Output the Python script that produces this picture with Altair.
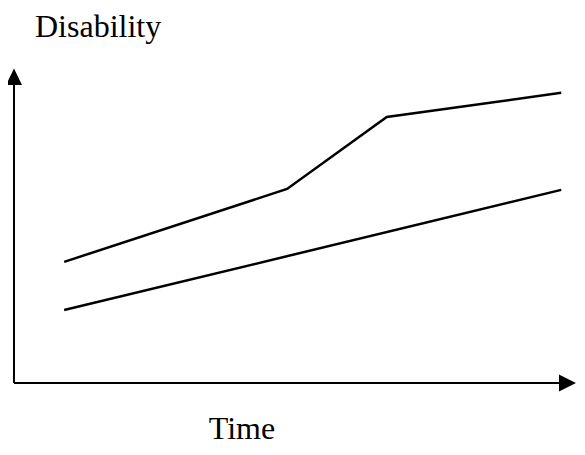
import altair as alt
import pandas as pd

# Data (arbitrary units)
upper_time = [0.88, 4.79, 6.54, 9.60]
upper_dis = [3.87, 6.20, 8.50, 9.27]
lower_time = [0.88, 9.60]
lower_dis = [2.33, 6.17]

lines = pd.DataFrame({
    "time": upper_time + lower_time,
    "dis": upper_dis + lower_dis,
    "series": ["upper"] * len(upper_time) + ["lower"] * len(lower_time),
    "order": list(range(len(upper_time))) + list(range(len(lower_time))),
})

xs = alt.Scale(domain=[0, 10], range=[6, 576])
ys = alt.Scale(domain=[0, 10], range=[375, 62])

axes = pd.DataFrame({"x": [0, 0], "y": [0, 0], "x2": [0, 9.6], "y2": [9.6, 0]})
heads = pd.DataFrame({"x": [0, 9.71], "y": [9.78, 0], "kind": ["up", "right"]})

rules = alt.Chart(axes).mark_rule(color="black", strokeWidth=2).encode(
    x=alt.X("x:Q", scale=xs, axis=None),
    y=alt.Y("y:Q", scale=ys, axis=None),
    x2="x2:Q",
    y2="y2:Q",
)

head_up = alt.Chart(heads[heads.kind == "up"]).mark_point(
    shape="M0,-1.06L1,1L-1,1Z", filled=True, color="black", opacity=1, size=256
).encode(x=alt.X("x:Q", scale=xs, axis=None), y=alt.Y("y:Q", scale=ys, axis=None))

head_right = alt.Chart(heads[heads.kind == "right"]).mark_point(
    shape="M-1,-1L1,0L-1,1Z", filled=True, color="black", opacity=1, size=289
).encode(x=alt.X("x:Q", scale=xs, axis=None), y=alt.Y("y:Q", scale=ys, axis=None))

data_lines = alt.Chart(lines).mark_line(color="black", strokeWidth=2.5).encode(
    x=alt.X("time:Q", scale=xs, axis=None),
    y=alt.Y("dis:Q", scale=ys, axis=None),
    detail="series:N",
    order="order:Q",
)

label_y = alt.Chart(pd.DataFrame({"t": ["Disability"]})).mark_text(
    font="Liberation Serif", fontSize=32, align="left", baseline="alphabetic", color="black"
).encode(text="t:N", x=alt.value(27), y=alt.value(29))

label_x = alt.Chart(pd.DataFrame({"t": ["Time"]})).mark_text(
    font="Liberation Serif", fontSize=32, align="center", baseline="alphabetic", color="black"
).encode(text="t:N", x=alt.value(234), y=alt.value(431))

chart = alt.layer(rules, head_up, head_right, data_lines, label_y, label_x).properties(
    width=569, height=439, autosize=alt.AutoSizeParams(type="none"), padding=0
).configure_view(stroke=None)

chart.save("out.html", embed_options={"renderer": "svg", "actions": False})
